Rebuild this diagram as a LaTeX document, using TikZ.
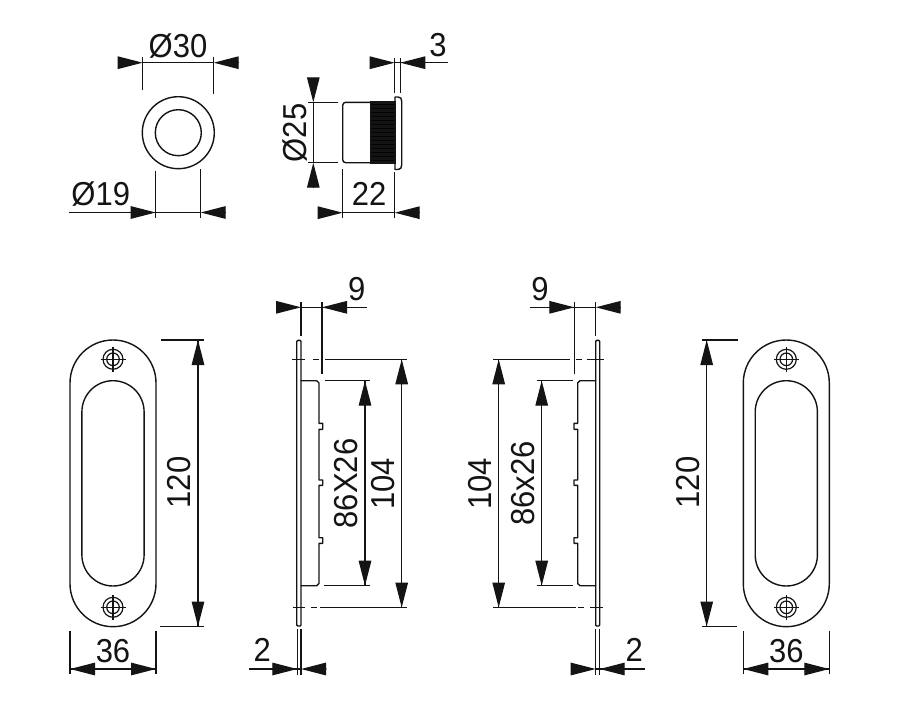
\documentclass[tikz,border=0pt]{standalone}
\usepackage{graphicx}
\usepackage{fontspec}
\setmainfont{Liberation Sans}
\usetikzlibrary{arrows.meta}
\definecolor{ink}{HTML}{141414}
\newcommand{\T}[1]{\scalebox{1}[1.07]{#1}}
\tikzset{
  part/.style={draw=ink,line width=1.4pt,line join=round},
  dimline/.style={draw=ink,line width=1.25pt},
  dimarrow/.style={draw=ink,line width=1.25pt,-{Triangle[length=25pt,width=12.5pt,fill=ink]}},
  label/.style={inner sep=0pt,outer sep=0pt,text=ink,font=\fontsize{31}{31}\selectfont,anchor=center},
  vlabel/.style={label,rotate=90},
}
\newcommand{\screw}[2]{%
  \draw[part,line width=1.2pt] (#1,#2) circle[radius=10pt] (#1,#2) circle[radius=6.3pt];
  \draw[dimline,line width=1.1pt] (#1-12.5,#2) -- (#1+12.5,#2) (#1,#2-12.5) -- (#1,#2+12.5);
}
\newcommand{\plate}[1]{% #1 = centre x
  \draw[part] (#1-43,383) arc[start angle=180,end angle=0,radius=43pt] -- (#1+43,583.7)
     arc[start angle=0,end angle=-180,radius=43pt] -- cycle;
  \draw[part] (#1-31.1,411.8) arc[start angle=180,end angle=0,radius=31.1pt] -- (#1+31.1,554.9)
     arc[start angle=0,end angle=-180,radius=31.1pt] -- cycle;
  \screw{#1}{359.3}
  \screw{#1}{607.3}
}
\begin{document}
\begin{tikzpicture}[x=1pt,y=-1pt]
\useasboundingbox (0,0) rectangle (899,709);
\fill[white] (0,0) rectangle (899,709);

% ---- front view of cup
\draw[part] (178.3,132.7) circle[radius=36pt] (178.3,132.7) circle[radius=23pt];
\draw[dimline] (142.7,57) -- (142.7,90) (213.7,57) -- (213.7,94);
\draw[dimline] (142.7,62.7) -- (213.7,62.7);
\draw[dimarrow] (118,62.7) -- (142.7,62.7);
\draw[dimarrow] (238.7,62.7) -- (213.7,62.7);
\node[label] (d30) at (178,46) {\T{Ø30}};
\draw[dimline] (155.7,170.7) -- (155.7,218) (200.7,169) -- (200.7,218);
\draw[dimline] (69,212.5) -- (200.7,212.5);
\draw[dimarrow] (131,212.5) -- (155.7,212.5);
\draw[dimarrow] (225.7,212.5) -- (200.7,212.5);
\node[label] (d19) at (100.7,194) {\T{Ø19}};

% ---- side view of cup
\draw[part,rounded corners=3pt] (370,102.3) -- (342.7,102.3) -- (342.7,162.7) -- (370,162.7);
\fill[ink] (370,101) rectangle (396,164);
\foreach \yy in {104,108,...,162} \draw[black!80!ink,line width=.4pt] (371,\yy) -- (395,\yy);
\draw[part] (395,97) -- (398,97) .. controls (400.5,97) and (401.7,98.5) .. (401.7,101)
  -- (401.7,165) .. controls (401.7,168) and (400.5,169.5) .. (398,169.5) -- (395,169.5) -- cycle;
\draw[dimline] (308,102.3) -- (337.7,102.3) (308,162.7) -- (337.7,162.7);
\draw[dimarrow] (313.3,78.3) -- (313.3,102.3);
\draw[dimarrow] (313.3,187.3) -- (313.3,162.7);
\draw[dimline] (313.3,102.3) -- (313.3,162.7);
\node[vlabel] (d25) at (295,133) {\T{Ø25}};
\draw[dimline] (394.7,58) -- (394.7,92.7) (400.3,58) -- (400.3,92.7);
\draw[dimline] (394.7,62.7) -- (447.7,62.7);
\draw[dimarrow] (370.7,62.7) -- (394.7,62.7);
\draw[dimarrow] (425.5,62.7) -- (400.3,62.7);
\node[label] (d3) at (438,45) {\T{3}};
\draw[dimline] (342.7,169.3) -- (342.7,218) (394.7,172) -- (394.7,218);
\draw[dimline] (342.7,212.7) -- (394.7,212.7);
\draw[dimarrow] (318.3,212.7) -- (342.7,212.7);
\draw[dimarrow] (419.7,212.7) -- (394.7,212.7);
\node[label] (d22) at (369,194) {\T{22}};

% ---- left plate
\plate{113}
\draw[dimline] (161,340) -- (203.7,340) (160,626.5) -- (203.7,626.5);
\draw[dimline] (198,340) -- (198,626.5);
\draw[dimarrow] (198,365) -- (198,340);
\draw[dimarrow] (198,601.5) -- (198,626.5);
\node[vlabel] (h120l) at (179,482.5) {\T{120}};
\draw[dimline] (70,630.7) -- (70,674) (156,630.7) -- (156,674);
\draw[dimline] (70,669) -- (156,669);
\draw[dimarrow] (94.7,669) -- (70,669);
\draw[dimarrow] (131,669) -- (156,669);
\node[label] (w36l) at (113,650.7) {\T{36}};

% ---- left section
\draw[part] (296.7,625) -- (296.7,341.5) -- (298,340.3) -- (300,340.3) -- (301,341.5) -- (301,625) -- (300,626) -- (298,626) -- cycle;
\draw[part,line cap=round] (301,380.7) -- (316.7,380.7) -- (319,383) -- (319,423.3) -- (322.7,423.3) -- (322.7,429.3) -- (319,429.3)
  -- (319,480) -- (322.7,480) -- (322.7,485.3) -- (319,485.3)
  -- (319,537.7) -- (322.7,537.7) -- (322.7,543.3) -- (319,543.3)
  -- (319,583.5) -- (316.7,585.7) -- (301,585.7);
\draw[dimline] (301,302.3) -- (301,336) (322,302.3) -- (322,374);
\draw[dimline] (301,307.3) -- (366.7,307.3);
\draw[dimarrow] (276,307.3) -- (301,307.3);
\draw[dimarrow] (347,307.3) -- (322,307.3);
\node[label] (n9l) at (356.7,289) {\T{9}};
\draw[dimline] (291.7,359.3) -- (305,359.3) (312.7,359.3) -- (319.3,359.3) (325,359.3) -- (406.7,359.3);
\draw[dimline] (292.7,607.5) -- (305,607.5) (310.7,607.5) -- (317.3,607.5) (320,607.5) -- (406.7,607.5);
\draw[dimline] (325,380.7) -- (370,380.7) (324,585.7) -- (370,585.7);
\draw[dimline] (365,380.7) -- (365,585.7);
\draw[dimarrow] (365,405.5) -- (365,380.7);
\draw[dimarrow] (365,561) -- (365,585.7);
\node[vlabel] (t86l) at (346.5,483.5) {\T{86X26}};
\draw[dimline] (401.7,359.3) -- (401.7,607.5);
\draw[dimarrow] (401.7,384) -- (401.7,359.3);
\draw[dimarrow] (401.7,582.5) -- (401.7,607.5);
\node[vlabel] (t104l) at (383,484) {\T{104}};
\draw[dimline] (297.3,629.3) -- (297.3,675) (301,629.3) -- (301,675);
\draw[dimline] (249.3,669) -- (301,669);
\draw[dimarrow] (272.3,669) -- (297.3,669);
\draw[dimarrow] (325.7,669) -- (301,669);
\node[label] (n2l) at (262.3,650) {\T{2}};

% ---- right section
\draw[part] (595.7,625) -- (595.7,341.5) -- (596.7,340.3) -- (598.7,340.3) -- (599.7,341.5) -- (599.7,625) -- (598.7,626) -- (596.7,626) -- cycle;
\draw[part,line cap=round] (595.7,380.7) -- (580,380.7) -- (577.7,383) -- (577.7,423.3) -- (574,423.3) -- (574,429.3) -- (577.7,429.3)
  -- (577.7,480) -- (574,480) -- (574,485.3) -- (577.7,485.3)
  -- (577.7,537.7) -- (574,537.7) -- (574,543.3) -- (577.7,543.3)
  -- (577.7,583.5) -- (580,585.7) -- (595.7,585.7);
\draw[dimline] (574.3,302.3) -- (574.3,374) (595.7,302.3) -- (595.7,336);
\draw[dimline] (530,307.3) -- (595.7,307.3);
\draw[dimarrow] (549.3,307.3) -- (574.3,307.3);
\draw[dimarrow] (620.3,307.3) -- (595.7,307.3);
\node[label] (n9r) at (540,289) {\T{9}};
\draw[dimline] (493.3,359.3) -- (570,359.3) (575.7,359.3) -- (582,359.3) (586.7,359.3) -- (604,359.3);
\draw[dimline] (493.3,607.5) -- (575.7,607.5) (577.5,607.5) -- (584,607.5) (590,607.5) -- (602.7,607.5);
\draw[dimline] (536.7,380.7) -- (572.7,380.7) (536.7,585.7) -- (573.3,585.7);
\draw[dimline] (541.7,380.7) -- (541.7,585.7);
\draw[dimarrow] (541.7,405.5) -- (541.7,380.7);
\draw[dimarrow] (541.7,561) -- (541.7,585.7);
\node[vlabel] (t86r) at (523.3,483.5) {\T{86x26}};
\draw[dimline] (498.7,359.3) -- (498.7,607.5);
\draw[dimarrow] (498.7,384) -- (498.7,359.3);
\draw[dimarrow] (498.7,582.5) -- (498.7,607.5);
\node[vlabel] (t104r) at (480.5,484) {\T{104}};
\draw[dimline] (595.7,629.3) -- (595.7,675) (599.7,629.3) -- (599.7,675);
\draw[dimline] (595.7,669) -- (645,669);
\draw[dimarrow] (571,669) -- (595.7,669);
\draw[dimarrow] (624,669) -- (599.7,669);
\node[label] (n2r) at (634.3,650) {\T{2}};

% ---- right plate
\plate{786.3}
\draw[dimline] (701.7,340) -- (738.3,340) (701.7,626.5) -- (737.3,626.5);
\draw[dimline] (706.7,340) -- (706.7,626.5);
\draw[dimarrow] (706.7,365) -- (706.7,340);
\draw[dimarrow] (706.7,601.5) -- (706.7,626.5);
\node[vlabel] (h120r) at (688.3,482.5) {\T{120}};
\draw[dimline] (743.3,630.7) -- (743.3,674) (829.3,630.7) -- (829.3,674);
\draw[dimline] (743.3,669) -- (829.3,669);
\draw[dimarrow] (768,669) -- (743.3,669);
\draw[dimarrow] (804.3,669) -- (829.3,669);
\node[label] (w36r) at (786.3,650.7) {\T{36}};
\end{tikzpicture}
\end{document}
